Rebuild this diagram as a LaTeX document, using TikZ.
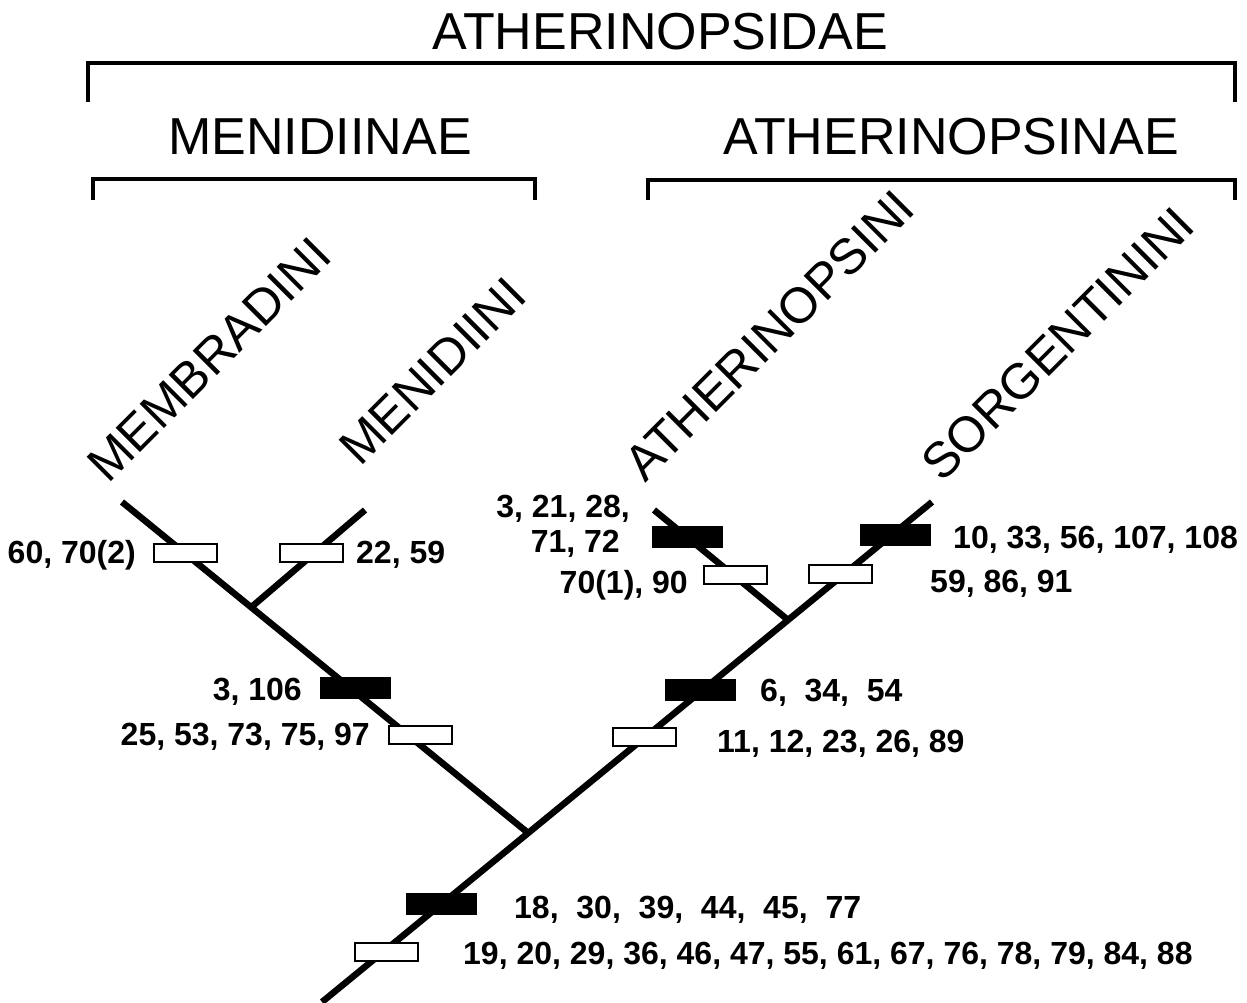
\documentclass[tikz,border=0pt]{standalone}
\usepackage{fontspec}
\setmainfont{Liberation Sans}
\usetikzlibrary{calc}
\begin{document}
\begin{tikzpicture}[x=1pt,y=-1pt,
  branch/.style={line width=6.5pt},
  brace/.style={line width=4pt},
  openmark/.style={draw, line width=2pt, fill=white, minimum width=63pt, minimum height=18pt, inner sep=0pt},
  solidmark/.style={fill=black, minimum width=71pt, minimum height=22pt, inner sep=0pt},
  nums/.style={font=\fontsize{32}{36}\selectfont\bfseries, inner sep=0pt},
  taxon/.style={font=\fontsize{50}{54}\selectfont, inner sep=0pt, rotate=45, anchor=base west},
  group/.style={font=\fontsize{52}{56}\selectfont, inner sep=0pt, anchor=base}]
\useasboundingbox (0,0) rectangle (1247,1002);

% group headings
\node[group] (fam)  at (660,49)  {ATHERINOPSIDAE};
\node[group] (sub1) at (320,154) {MENIDIINAE};
\node[group] (sub2) at (951,154) {ATHERINOPSINAE};

% brackets
\draw[brace] (88,102) -- (88,63) -- (1235,63) -- (1235,102);
\draw[brace] (93,200) -- (93,179) -- (535,179) -- (535,200);
\draw[brace] (648,200) -- (648,180) -- (1235,180) -- (1235,200);

% terminal taxa
\node[taxon] (t1) at (108,485) {MEMBRADINI};
\node[taxon] (t2) at (360,468) {MENIDIINI};
\node[taxon] (t3) at (645,484) {ATHERINOPSINI};
\node[taxon] (t4) at (942,484) {SORGENTININI};

% tree
\coordinate (mtip) at (122,502);
\coordinate (ntip) at (365,510);
\coordinate (atip) at (654,510);
\coordinate (stip) at (932,502);
\coordinate (base) at (322,1002);
\coordinate (j0) at ($(base)!0.338!(stip)$);
\coordinate (j1) at ($(mtip)!0.318!(j0)$);
\coordinate (j2) at ($(base)!0.764!(stip)$);

\draw[branch] (base) -- (stip);
\draw[branch] (mtip) -- (j0);
\draw[branch] (ntip) -- (j1);
\draw[branch] (atip) -- (j2);

% character-state marks
\node[openmark]  (b1)  at (185,553) {};
\node[openmark]  (b2)  at (311,553) {};
\node[solidmark] (b3)  at (355,688) {};
\node[openmark]  (b4)  at (420,735) {};
\node[solidmark] (b5)  at (687,537) {};
\node[openmark]  (b6)  at (735,575) {};
\node[solidmark] (b7)  at (895,535) {};
\node[openmark]  (b8)  at (840,574) {};
\node[solidmark] (b9)  at (700,690) {};
\node[openmark]  (b10) at (644,737) {};
\node[solidmark] (b11) at (441,904) {};
\node[openmark]  (b12) at (386,952) {};

% character numbers
\node[nums, anchor=base east] (l1)  at (136,563) {60, 70(2)};
\node[nums, anchor=base west] (l2)  at (356,563) {22, 59};
\node[nums, anchor=base east] (l3)  at (302,700) {3, 106};
\node[nums, anchor=base east] (l4)  at (370,745) {25, 53, 73, 75, 97};
\node[nums, anchor=base east] (l5a) at (630,517) {3, 21, 28,};
\node[nums, anchor=base east] (l5b) at (620,552) {71, 72};
\node[nums, anchor=base east] (l6)  at (688,593) {70(1), 90};
\node[nums, anchor=base west] (l7)  at (953,548) {10, 33, 56, 107, 108};
\node[nums, anchor=base west] (l8)  at (930,592) {59, 86, 91};
\node[nums, anchor=base west] (l9)  at (760,701) {6,\ \ 34,\ \ 54};
\node[nums, anchor=base west] (l10) at (717,752) {11, 12, 23, 26, 89};
\node[nums, anchor=base west] (l11) at (514,918) {18,\ \ 30,\ \ 39,\ \ 44,\ \ 45,\ \ 77};
\node[nums, anchor=base west] (l12) at (463,964) {19, 20, 29, 36, 46, 47, 55, 61, 67, 76, 78, 79, 84, 88};
\end{tikzpicture}
\end{document}
